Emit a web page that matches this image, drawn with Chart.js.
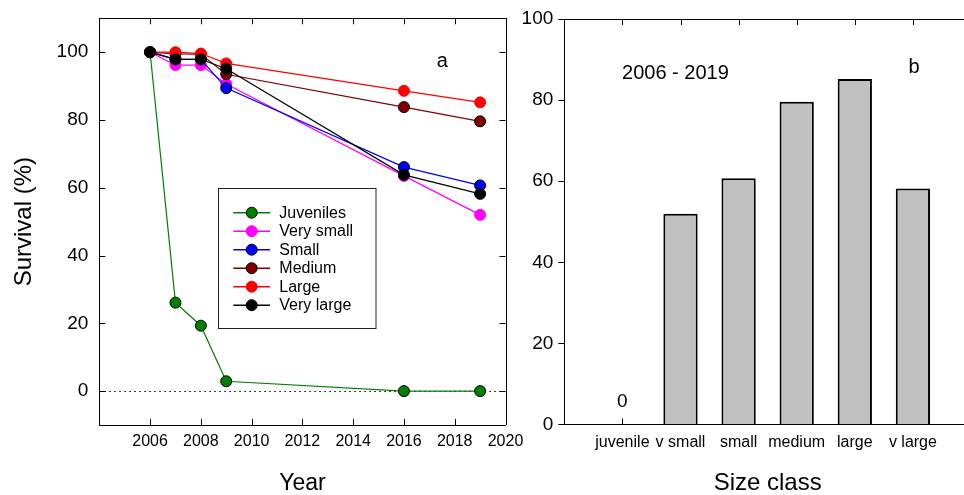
<!DOCTYPE html>
<html>
<head>
<meta charset="utf-8">
<script src="https://cdn.jsdelivr.net/npm/chart.js@4/dist/chart.umd.min.js"></script>
<style>
  html, body { margin: 0; padding: 0; background: #fff; }
  body { width: 964px; height: 495px; position: relative; overflow: hidden; }
  #panelA { position: absolute; left: 0; top: 0; width: 540px; height: 495px; }
  #panelB { position: absolute; left: 505px; top: 0; width: 459px; height: 495px; overflow: hidden; }
  #panelB .inner { position: absolute; left: 0; top: 0; width: 490px; height: 495px; }
</style>
</head>
<body>
<div id="panelA"><canvas id="survival" width="540" height="495"></canvas></div>
<div id="panelB"><div class="inner"><canvas id="sizeclass" width="490" height="495"></canvas></div></div>
<script>
// ---- data ----
const years = [2006, 2007, 2008, 2009, 2016, 2019];
const seriesNames = ['Juveniles', 'Very small', 'Small', 'Medium', 'Large', 'Very large'];
const juveniles = [100, 26.1, 19.3, 2.9, 0, 0];
const verySmall = [100, 96.2, 96.2, 90.6, 63.5, 52.0];
const small     = [100, 97.9, 97.9, 89.4, 66.1, 60.7];
const medium    = [100, 99.5, 99.4, 93.5, 83.8, 79.6];
const large     = [100, 100, 99.6, 96.7, 88.6, 85.2];
const veryLarge = [100, 97.9, 97.9, 95.1, 63.8, 58.2];
const yearTicks = [2006, 2008, 2010, 2012, 2014, 2016, 2018, 2020];
const survivalTicks = [0, 20, 40, 60, 80, 100];

const sizeClasses = ['juvenile', 'v small', 'small', 'medium', 'large', 'v large'];
const survival0619 = [0, 52.0, 60.7, 79.6, 85.2, 58.2];
const barTicks = [0, 20, 40, 60, 80, 100];

// ---- styles ----
const FONT = "'Liberation Sans', Arial, Helvetica, sans-serif";
Chart.defaults.font.family = FONT;
Chart.defaults.color = '#000';
Chart.defaults.animation = false;

const seriesValues = [juveniles, verySmall, small, medium, large, veryLarge];
const lineColors  = ['#008000', '#ff00ff', '#0000ff', '#800000', '#ff0000', '#000000'];
const pointEdges  = ['#000000', '#ff00ff', '#000000', '#000000', '#ff0000', '#000000'];

// keep the plot box where the layout padding puts it
function noEdgePadding(s) {
  s.paddingTop = 0; s.paddingBottom = 0; s.paddingLeft = 0; s.paddingRight = 0;
}

// inward tick marks plus the top and right edges of the frame
function frameTicks(opts) {
  return {
    id: 'frameTicks',
    beforeDatasetsDraw(chart) {
      const { ctx, chartArea: a } = chart;
      const xs = chart.scales.x, ys = chart.scales.y;
      const len = 6;
      ctx.save();
      ctx.strokeStyle = '#000';
      ctx.lineWidth = 1;
      ctx.beginPath();
      if (opts.xTicks) {
        xs.ticks.forEach(t => {
          const px = Math.round(xs.getPixelForValue(t.value)) + 0.5;
          if (opts.top) { ctx.moveTo(px, a.top); ctx.lineTo(px, a.top + len); }
          if (opts.bottom) { ctx.moveTo(px, a.bottom); ctx.lineTo(px, a.bottom - len); }
        });
      }
      if (opts.yTicks) {
        ys.ticks.forEach(t => {
          const py = Math.round(ys.getPixelForValue(t.value)) + 0.5;
          ctx.moveTo(a.left, py); ctx.lineTo(a.left + len, py);
          ctx.moveTo(a.right, py); ctx.lineTo(a.right - len, py);
        });
      }
      const top = Math.round(a.top) + 0.5;
      const right = Math.round(a.right) + 0.5;
      ctx.moveTo(a.left, top); ctx.lineTo(right, top);
      ctx.moveTo(right, top); ctx.lineTo(right, a.bottom);
      ctx.stroke();
      ctx.restore();
    }
  };
}

// dotted reference line at zero survival
const zeroLine = {
  id: 'zeroLine',
  beforeDatasetsDraw(chart) {
    const { ctx, chartArea: a } = chart;
    const py = Math.round(chart.scales.y.getPixelForValue(0)) + 0.5;
    ctx.save();
    ctx.strokeStyle = '#000';
    ctx.lineWidth = 1.2;
    ctx.setLineDash([1.5, 3.5]);
    ctx.beginPath();
    ctx.moveTo(a.left, py);
    ctx.lineTo(a.right, py);
    ctx.stroke();
    ctx.restore();
  }
};

// boxed legend inside the plot area
const boxLegend = {
  id: 'boxLegend',
  afterDatasetsDraw(chart) {
    const { ctx } = chart;
    const bx = 218.5, by = 188.5, bw = 157.5, bh = 140;
    ctx.save();
    ctx.fillStyle = '#fff';
    ctx.fillRect(bx, by, bw, bh);
    ctx.strokeStyle = '#222';
    ctx.lineWidth = 1;
    ctx.strokeRect(bx, by, bw, bh);
    ctx.font = '16px ' + FONT;
    ctx.textBaseline = 'middle';
    ctx.textAlign = 'left';
    chart.data.datasets.forEach((ds, i) => {
      const y = 212.7 + i * 18.5;
      ctx.strokeStyle = ds.borderColor;
      ctx.lineWidth = 1.5;
      ctx.beginPath();
      ctx.moveTo(233.3, y); ctx.lineTo(270, y);
      ctx.stroke();
      ctx.beginPath();
      ctx.arc(251.7, y, 5.5, 0, Math.PI * 2);
      ctx.fillStyle = ds.pointBackgroundColor;
      ctx.fill();
      ctx.lineWidth = 1;
      ctx.strokeStyle = ds.pointBorderColor;
      ctx.stroke();
      ctx.fillStyle = '#000';
      ctx.fillText(ds.label, 279.3, y + 0.5);
    });
    ctx.restore();
  }
};

function panelLabels(items) {
  return {
    id: 'panelLabels',
    afterDatasetsDraw(chart) {
      const { ctx } = chart;
      ctx.save();
      ctx.fillStyle = '#000';
      ctx.textAlign = 'center';
      ctx.textBaseline = 'middle';
      items.forEach(it => {
        ctx.font = it.size + 'px ' + FONT;
        ctx.fillText(it.text, it.x, it.y);
      });
      ctx.restore();
    }
  };
}

// ---- panel a: survival through time ----
new Chart(document.getElementById('survival'), {
  type: 'line',
  data: {
    datasets: seriesNames.map((name, i) => ({
      label: name,
      data: years.map((yr, j) => ({ x: yr, y: seriesValues[i][j] })),
      borderColor: lineColors[i],
      backgroundColor: lineColors[i],
      pointBackgroundColor: lineColors[i],
      pointBorderColor: pointEdges[i],
      pointBorderWidth: 1,
      pointRadius: 5.5,
      borderWidth: 1.2,
      tension: 0,
      fill: false,
      order: seriesNames.length - i
    }))
  },
  options: {
    responsive: false,
    layout: { padding: { left: 0, right: 34.5, top: 18.3, bottom: 0 } },
    plugins: { legend: { display: false }, tooltip: { enabled: false } },
    scales: {
      x: {
        type: 'linear',
        min: 2004, max: 2020,
        afterBuildTicks: s => { s.ticks = yearTicks.map(v => ({ value: v })); },
        afterFit: s => { s.height = 70; noEdgePadding(s); },
        ticks: { callback: v => String(v), font: { size: 16 }, padding: 7, autoSkip: false, maxRotation: 0, minRotation: 0 },
        grid: { display: false, drawTicks: false },
        border: { display: true, color: '#000', width: 1 },
        title: { display: true, text: 'Year', font: { size: 23, lineHeight: 1 }, padding: { top: 0, bottom: 0 } }
      },
      y: {
        min: -10, max: 110,
        afterBuildTicks: s => { s.ticks = survivalTicks.map(v => ({ value: v })); },
        afterFit: s => { s.width = 99.3; noEdgePadding(s); },
        ticks: { font: { size: 19 }, padding: 11 },
        grid: { display: false, drawTicks: false },
        border: { display: true, color: '#000', width: 1 },
        title: { display: true, text: 'Survival (%)', font: { size: 24, lineHeight: 1 }, padding: { top: 12, bottom: 0 } }
      }
    }
  },
  plugins: [frameTicks({ xTicks: true, yTicks: true, top: true, bottom: true }), zeroLine, boxLegend,
            panelLabels([{ text: 'a', x: 442.3, y: 61.5, size: 20 }])]
});

// value label above bars whose value is zero
const zeroBarLabel = {
  id: 'zeroBarLabel',
  afterDatasetsDraw(chart) {
    const { ctx } = chart;
    const xs = chart.scales.x, ys = chart.scales.y;
    ctx.save();
    ctx.fillStyle = '#000';
    ctx.font = '19px ' + FONT;
    ctx.textAlign = 'center';
    ctx.textBaseline = 'middle';
    survival0619.forEach((v, i) => {
      if (v === 0) ctx.fillText(String(v), xs.getPixelForValue(i), ys.getPixelForValue(v) - 23);
    });
    ctx.restore();
  }
};

// ---- panel b: survival by size class ----
new Chart(document.getElementById('sizeclass'), {
  type: 'bar',
  data: {
    datasets: [{
      label: '2006 - 2019',
      data: survival0619.map((v, i) => ({ x: i, y: v })),
      backgroundColor: '#c0c0c0',
      borderColor: '#000',
      borderWidth: survival0619.map(v => (v === 0 ? 0 : 2)),
      borderSkipped: 'bottom',
      barPercentage: 0.59,
      categoryPercentage: 1
    }]
  },
  options: {
    responsive: false,
    layout: { padding: { left: 0, right: 24, top: 19, bottom: 0 } },
    plugins: { legend: { display: false }, tooltip: { enabled: false } },
    scales: {
      x: {
        type: 'linear',
        offset: false,
        min: -1, max: 6,
        afterBuildTicks: s => { s.ticks = sizeClasses.map((c, i) => ({ value: i })); },
        afterFit: s => { s.height = 70.5; noEdgePadding(s); },
        ticks: { callback: v => sizeClasses[v], font: { size: 16 }, padding: 8, autoSkip: false, maxRotation: 0, minRotation: 0 },
        grid: { display: false, drawTicks: false },
        border: { display: true, color: '#000', width: 1 },
        title: { display: true, text: 'Size class', font: { size: 24, lineHeight: 1 }, padding: { top: 0, bottom: 0 } }
      },
      y: {
        min: 0, max: 100,
        afterBuildTicks: s => { s.ticks = barTicks.map(v => ({ value: v })); },
        afterFit: s => { s.width = 59.3; noEdgePadding(s); },
        ticks: { font: { size: 19 }, padding: 5 },
        grid: { display: true, drawOnChartArea: false, drawTicks: true, tickLength: 6, color: '#000', lineWidth: 1 },
        border: { display: true, color: '#000', width: 1 }
      }
    }
  },
  plugins: [frameTicks({ xTicks: true, yTicks: false, top: true, bottom: true }), zeroBarLabel,
            panelLabels([{ text: '2006 - 2019', x: 170.4, y: 73, size: 20 }, { text: 'b', x: 409, y: 67, size: 20 }])]
});
</script>
</body>
</html>
